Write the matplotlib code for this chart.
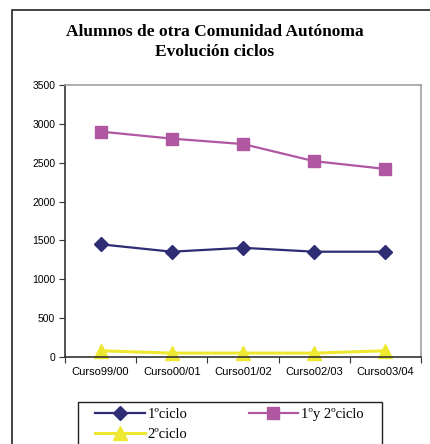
import matplotlib
matplotlib.use("Agg")
import matplotlib.pyplot as plt
from matplotlib.patches import Rectangle
import numpy as np

categories = ["Curso99/00", "Curso00/01", "Curso01/02", "Curso02/03", "Curso03/04"]
ciclo1 = [1450, 1355, 1405, 1355, 1355]
ciclo12 = [2900, 2810, 2740, 2520, 2420]
ciclo2 = [80, 50, 50, 50, 80]
yticks = [0, 500, 1000, 1500, 2000, 2500, 3000, 3500]

W, H = 430, 444
fig = plt.figure(figsize=(W/100, H/100), dpi=100)
fig.patch.set_facecolor("white")

# outer border
fig.add_artist(Rectangle((12/W, -0.2), 1.0, 1.2 - 10/H,
                         transform=fig.transFigure, fill=False,
                         edgecolor="#222222", linewidth=1.2))
# legend frame
fig.add_artist(Rectangle((78/W, -0.2), (382-78)/W, 0.2 + 1 - 402/H,
                         transform=fig.transFigure, fill=False,
                         edgecolor="#222222", linewidth=1.0))

ax = fig.add_axes([65/W, 1 - 357/H, (421-65)/W, (357-85)/H])
x = np.arange(len(categories))

h1, = ax.plot(x, ciclo1, color="#2E2C73", linewidth=1.6, marker="D", markersize=7,
              markerfacecolor="#2E2C73", markeredgecolor="#2E2C73", label="1ºciclo")
h2, = ax.plot(x, ciclo12, color="#B057A2", linewidth=1.6, marker="s", markersize=8.5,
              markerfacecolor="#B057A2", markeredgecolor="#B057A2", label="1ºy 2ºciclo")
h3, = ax.plot(x, ciclo2, color="#EEE830", linewidth=2.2, marker="^", markersize=10,
              markerfacecolor="#EEE830", markeredgecolor="#EEE830", label="2ºciclo",
              clip_on=False)

ax.set_ylim(0, 3500)
ax.set_yticks(yticks)
ax.set_yticklabels([str(v) for v in yticks], fontfamily="Liberation Sans", fontsize=7.5)
ax.set_xlim(-0.5, len(categories) - 0.5)
ax.set_xticks(np.arange(-0.5, len(categories), 1.0))
ax.set_xticklabels([])
ax.set_xticks(x, minor=True)
ax.set_xticklabels(categories, minor=True, fontfamily="Liberation Sans", fontsize=8)
ax.tick_params(axis="x", which="minor", length=0, pad=7)
ax.tick_params(axis="x", which="major", length=4, direction="out", color="#333333")
ax.tick_params(axis="y", length=4, direction="out", color="#333333", pad=3)

for s in ["left", "bottom"]:
    ax.spines[s].set_color("#333333")
    ax.spines[s].set_linewidth(1.2)
for s in ["top", "right"]:
    ax.spines[s].set_color("#A0A0A0")
    ax.spines[s].set_linewidth(1.2)

fig.text(215/W, 1 - 32/H, "Alumnos de otra Comunidad Autónoma", ha="center", va="center",
         fontfamily="Liberation Serif", fontweight="bold", fontsize=12.5)
fig.text(215/W, 1 - 52/H, "Evolución ciclos", ha="center", va="center",
         fontfamily="Liberation Serif", fontweight="bold", fontsize=12.5)

leg = fig.legend([h1, h3, h2], ["1ºciclo", "2ºciclo", "1ºy 2ºciclo"],
                 loc="upper left", bbox_to_anchor=(95/W, 1 - 408/H),
                 ncol=2, frameon=False,
                 prop={"family": "Liberation Serif", "size": 10.5},
                 handlelength=3.4, borderpad=0, labelspacing=0.45,
                 columnspacing=4.2, handletextpad=0.2, borderaxespad=0)

fig.savefig("out.png", dpi=100)
